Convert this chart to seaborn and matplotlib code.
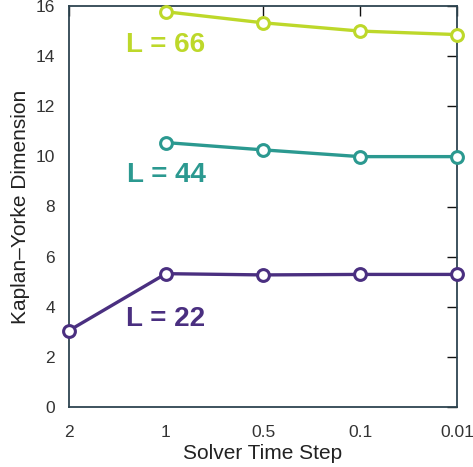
import matplotlib
matplotlib.use("Agg")
import matplotlib.pyplot as plt
import seaborn as sns
import pandas as pd

# Solver time steps (categorical, coarse to fine)
steps = ["2", "1", "0.5", "0.1", "0.01"]

# Kaplan-Yorke dimension per domain size L
ky_L22 = [3.05, 5.32, 5.27, 5.29, 5.29]
ky_L44 = [10.55, 10.26, 9.99, 9.99]
ky_L66 = [15.77, 15.33, 15.00, 14.86]

series = {
    "L = 22": (steps, ky_L22),
    "L = 44": (steps[1:], ky_L44),
    "L = 66": (steps[1:], ky_L66),
}
colors = {"L = 22": "#4a2f80", "L = 44": "#2b9990", "L = 66": "#bdd82a"}
label_pos = {"L = 22": (1, 3.5), "L = 44": (1, 9.27), "L = 66": (1, 14.45)}

rows = []
for name, (xs, ys) in series.items():
    for x, y in zip(xs, ys):
        rows.append({"step": x, "dim": y, "L": name})
df = pd.DataFrame(rows)

sns.set_style("white")
plt.rcParams["font.family"] = ["Liberation Sans", "DejaVu Sans"]

fig = plt.figure(figsize=(4.73, 4.67), dpi=100)
ax = fig.add_axes([69 / 473, 1 - 407 / 467, 388 / 473, 401 / 467])

sns.lineplot(
    data=df, x="step", y="dim", hue="L", palette=colors, ax=ax,
    marker="o", markersize=8.5, markerfacecolor="white", markeredgewidth=2.2,
    linewidth=2.4, legend=False, clip_on=False, zorder=3,
)
# open circles outlined in the line colour
for line in ax.lines:
    line.set_markeredgecolor(line.get_color())

for name, (lx, ly) in label_pos.items():
    ax.text(lx, ly, name, color=colors[name], fontsize=20, fontweight="bold",
            ha="center", va="center")

ax.set_xlim(0, 4)
ax.set_ylim(0, 16)
ax.set_yticks(range(0, 17, 2))
ax.set_xticks(range(len(steps)))
ax.set_xticklabels(steps)

ax.set_xlabel("Solver Time Step", fontsize=15, color="#222222", labelpad=3)
ax.set_ylabel("Kaplan\u2013Yorke Dimension", fontsize=15, color="#222222", labelpad=4)

for s in ax.spines.values():
    s.set_visible(True)
    s.set_color("#2e4450")
    s.set_linewidth(1.3)

ax.tick_params(direction="in", length=7, width=1, color="#111111",
               top=True, right=True, labelsize=12.5, labelcolor="#333333", pad=10)
ax.tick_params(axis="x", pad=13)

fig.savefig("out.png", dpi=100)
